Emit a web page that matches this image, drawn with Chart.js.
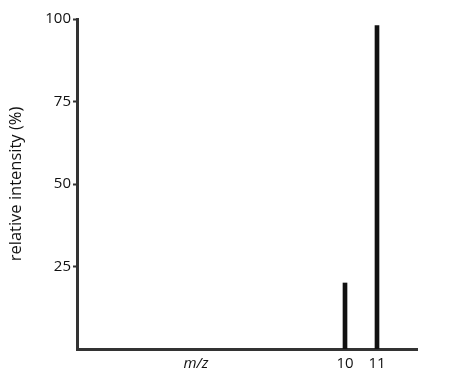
<!DOCTYPE html>
<html>
<head>
<meta charset="utf-8">
<script src="https://cdn.jsdelivr.net/npm/chart.js@4"></script>
<style>
  html, body { margin: 0; padding: 0; background: #fff; }
  #wrap { width: 452px; height: 381px; }
</style>
</head>
<body>
<div id="wrap"><canvas id="chart" width="452" height="381"></canvas></div>
<script>
// m/z peaks and their relative intensity
const mzValues = [10, 11];
const intensities = [20, 98];
const xTicks = [10, 11];
const yTicks = [25, 50, 75, 100];

const font = "'Open Sans', 'Liberation Sans', sans-serif";

// draws the italic "m/z" label below the axis, left of centre
const mzLabel = {
    id: 'mzLabel',
    afterDraw(chart) {
        const c = chart.ctx;
        c.save();
        c.font = "italic 15px " + font;
        c.fillStyle = '#111';
        c.textAlign = 'center';
        c.textBaseline = 'middle';
        c.fillText('m/z', 196, 364);
        c.restore();
    }
};

document.addEventListener('DOMContentLoaded', () => {
    const ctx = document.getElementById('chart');

    new Chart(ctx, {
        type: 'bar',
        data: {
            datasets: [{
                data: mzValues.map((m, i) => ({ x: m, y: intensities[i] })),
                backgroundColor: '#111',
                barThickness: 4
            }]
        },
        plugins: [mzLabel],
        options: {
            responsive: false,
            animation: false,
            layout: { padding: { top: 19, right: 35, left: 0, bottom: 0 } },
            plugins: { legend: { display: false }, tooltip: { enabled: false } },
            scales: {
                x: {
                    type: 'linear',
                    offset: false,
                    min: 1.625,
                    max: 12.25,
                    afterBuildTicks: s => { s.ticks = xTicks.map(v => ({ value: v })); },
                    afterFit: s => { s.height = 32; },
                    grid: { display: false, drawTicks: false },
                    border: { display: true, color: '#333', width: 3 },
                    ticks: {
                        padding: 6,
                        color: '#111',
                        font: { family: font, size: 15 },
                        maxRotation: 0,
                        autoSkip: false
                    }
                },
                y: {
                    min: 0,
                    max: 100,
                    afterBuildTicks: s => { s.ticks = yTicks.map(v => ({ value: v })); },
                    afterFit: s => { s.width = 77; },
                    grid: { drawOnChartArea: false, tickLength: 4, color: '#333', tickWidth: 2 },
                    border: { display: true, color: '#333', width: 3 },
                    ticks: {
                        padding: 2,
                        color: '#111',
                        font: { family: font, size: 15 }
                    },
                    title: {
                        display: true,
                        text: 'relative intensity (%)',
                        color: '#111',
                        font: { family: font, size: 16.5 },
                        padding: { top: 6, bottom: 0 }
                    }
                }
            }
        }
    });
});
</script>
</body>
</html>
